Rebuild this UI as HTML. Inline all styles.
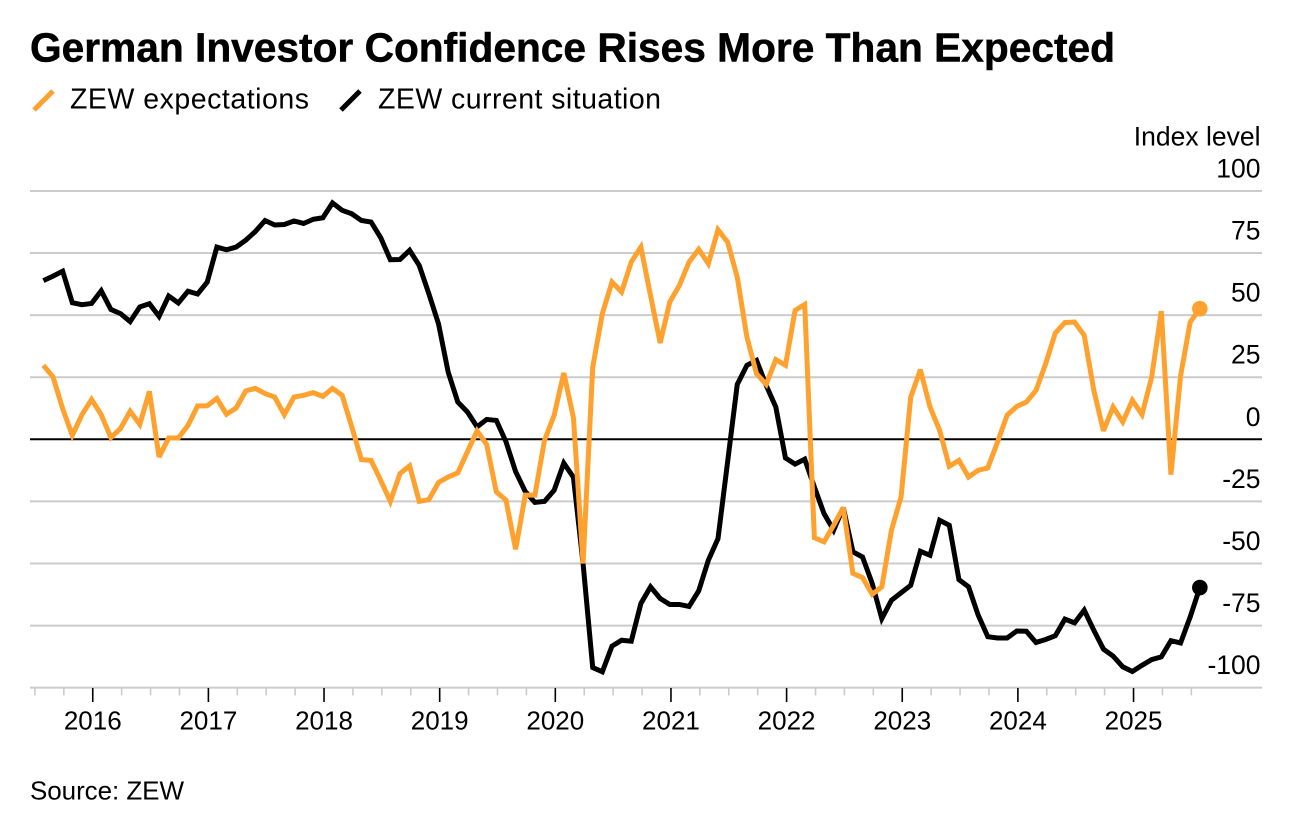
<!DOCTYPE html>
<html lang="en">
<head>
<meta charset="utf-8">
<title>German Investor Confidence Rises More Than Expected</title>
<style>
  html, body { margin: 0; padding: 0; background: #fff; }
  svg { display: block; }
  text { font-family: "Liberation Sans", sans-serif; fill: #000; }
</style>
</head>
<body>
<svg id="chart" xmlns="http://www.w3.org/2000/svg" width="1300" height="828" viewBox="0 0 1300 828">
  <rect width="1300" height="828" fill="#fff"/>
  <text x="30" y="61.5" font-size="41" font-weight="700" stroke="#000" stroke-width="0.5" textLength="1085" lengthAdjust="spacingAndGlyphs">German Investor Confidence Rises More Than Expected</text>
  <line x1="34" y1="110" x2="53" y2="91" stroke="#ffa12e" stroke-width="5"/>
  <text x="70" y="108.5" font-size="28.5" textLength="239" lengthAdjust="spacing">ZEW expectations</text>
  <line x1="341" y1="110" x2="360" y2="91" stroke="#000" stroke-width="5"/>
  <text x="378" y="108.5" font-size="28.5" textLength="283" lengthAdjust="spacing">ZEW current situation</text>
  <text x="1260.5" y="145.5" font-size="26.5" text-anchor="end">Index level</text>
  <g id="grid"></g>
  <g id="xaxis"></g>
  <g id="ylabels"></g>
  <g id="series"></g>
  <text x="30" y="799.5" font-size="26" textLength="154" lengthAdjust="spacing">Source: ZEW</text>
</svg>
<script>
// Monthly readings, starting Jul 2015 and ending Jul 2025
var currentSituation = [
  63.9,65.7,67.7,55.0,54.2,54.7,59.8,52.3,50.6,47.4,53.3,54.6,49.5,57.7,54.9,59.6,58.5,63.3,77.4,76.3,
  77.4,80.2,83.7,88.1,86.3,86.5,87.9,86.9,88.6,89.2,95.2,92.2,90.8,88.1,87.5,81.2,72.3,72.4,76.1,70.0,
  58.6,46.5,27.1,15.0,11.0,5.0,8.0,7.6,-1.0,-13.0,-21.0,-25.4,-25.0,-20.5,-9.6,-15.3,-50.0,-91.9,-93.6,-83.3,
  -80.9,-81.3,-66.1,-59.4,-64.1,-66.5,-66.5,-67.3,-61.0,-48.7,-40.0,-9.0,22.1,29.8,31.8,21.7,13.0,-7.5,-10.0,-8.0,
  -19.2,-29.9,-36.6,-27.5,-45.3,-47.4,-58.0,-72.2,-64.8,-61.8,-58.8,-45.1,-46.7,-32.6,-34.6,-56.5,-59.4,-70.8,-79.5,-80.0,
  -80.0,-77.2,-77.3,-81.8,-80.6,-79.1,-72.4,-73.9,-68.8,-76.9,-84.5,-87.3,-91.6,-93.5,-91.0,-88.7,-87.6,-81.1,-82.0,-71.5,-59.7
];
var expectations = [
  29.8,25.1,12.3,1.6,9.9,16.0,9.9,0.7,4.3,11.3,6.0,19.3,-7.1,0.5,0.5,5.6,13.4,13.5,16.4,10.1,
  12.6,19.5,20.5,18.4,17.0,9.9,17.0,17.7,18.8,17.3,20.5,17.7,5.0,-8.2,-8.5,-16.5,-25.0,-13.8,-10.7,-25.0,
  -24.3,-17.4,-15.2,-13.5,-5.0,3.4,-2.1,-21.2,-24.5,-44.3,-22.5,-22.5,-0.4,9.7,26.7,8.7,-50.0,29.0,50.6,63.3,
  59.3,71.4,77.4,57.9,38.8,55.3,62.0,71.4,76.5,70.7,84.4,79.4,65.3,41.2,26.4,22.1,32.1,29.8,51.9,54.3,
  -39.6,-41.3,-34.6,-27.5,-54.0,-55.7,-62.4,-59.4,-36.6,-23.2,17.0,28.0,13.0,3.6,-10.9,-8.5,-15.2,-12.5,-11.5,-1.2,
  9.7,13.2,15.0,19.7,30.4,42.8,47.0,47.2,41.9,19.7,3.4,13.0,7.0,15.7,10.0,25.0,51.6,-14.2,25.5,47.2,52.6
];
var yTicks = [100, 75, 50, 25, 0, -25, -50, -75, -100];
var yearLabels = ["2016","2017","2018","2019","2020","2021","2022","2023","2024","2025"];

var SVGNS = "http://www.w3.org/2000/svg";
var ORANGE = "#ffa12e";
var GRID = "#cbcbcb";
var TICK_ORIGIN = 5.12;   // month index of the first year boundary

function xScale(monthIndex) { return 43.4 + 9.637 * monthIndex; }
function yScale(value) { return 439.3 - 2.4835 * value; }

function make(tag, attrs, parent) {
  var el = document.createElementNS(SVGNS, tag);
  for (var k in attrs) { el.setAttribute(k, attrs[k]); }
  parent.appendChild(el);
  return el;
}

var grid = document.getElementById("grid");
var ylabels = document.getElementById("ylabels");
var xaxis = document.getElementById("xaxis");
var series = document.getElementById("series");

yTicks.forEach(function (tick) {
  var line = make("line", {
    x1: 30, x2: 1262, y1: yScale(tick), y2: yScale(tick),
    stroke: tick === 0 ? "#000" : GRID,
    "stroke-width": 2
  }, grid);
  
  

  var label = make("text", {
    x: 1260.5, y: yScale(tick) - 13.5, "font-size": 26.5, "text-anchor": "end"
  }, ylabels);
  label.textContent = String(tick);
  
  
});

// quarterly ticks, with a major tick on every year boundary
for (var k = -2; k <= 38; k++) {
  var isMajor = k >= 0 && k % 4 === 0;
  var tx = xScale(TICK_ORIGIN + 3 * k);
  var tickMark = make("line", {
    x1: tx, x2: tx, y1: 688, y2: isMajor ? 702 : 695.5,
    stroke: isMajor ? "#000" : GRID,
    "stroke-width": 1.6
  }, xaxis);
  
  
}

yearLabels.forEach(function (year, n) {
  var yearText = make("text", {
    x: xScale(TICK_ORIGIN + 12 * n), y: 729.5, "font-size": 26, "text-anchor": "middle"
  }, xaxis);
  yearText.textContent = year;
  
  
});

function pathFor(values) {
  return values.map(function (v, i) {
    return (i ? "L" : "M") + xScale(i).toFixed(2) + " " + yScale(v).toFixed(2);
  }).join(" ");
}

var blackLine = make("path", {
  d: pathFor(currentSituation), fill: "none", stroke: "#000",
  "stroke-width": 5, "stroke-linejoin": "miter", "stroke-miterlimit": 3
}, series);



var blackDot = make("circle", {
  cx: xScale(currentSituation.length - 1),
  cy: yScale(currentSituation[currentSituation.length - 1]),
  r: 7.8, fill: "#000"
}, series);



var orangeLine = make("path", {
  d: pathFor(expectations), fill: "none", stroke: ORANGE,
  "stroke-width": 5, "stroke-linejoin": "miter", "stroke-miterlimit": 3
}, series);



var orangeDot = make("circle", {
  cx: xScale(expectations.length - 1),
  cy: yScale(expectations[expectations.length - 1]),
  r: 7.8, fill: ORANGE
}, series);


</script>
</body>
</html>
